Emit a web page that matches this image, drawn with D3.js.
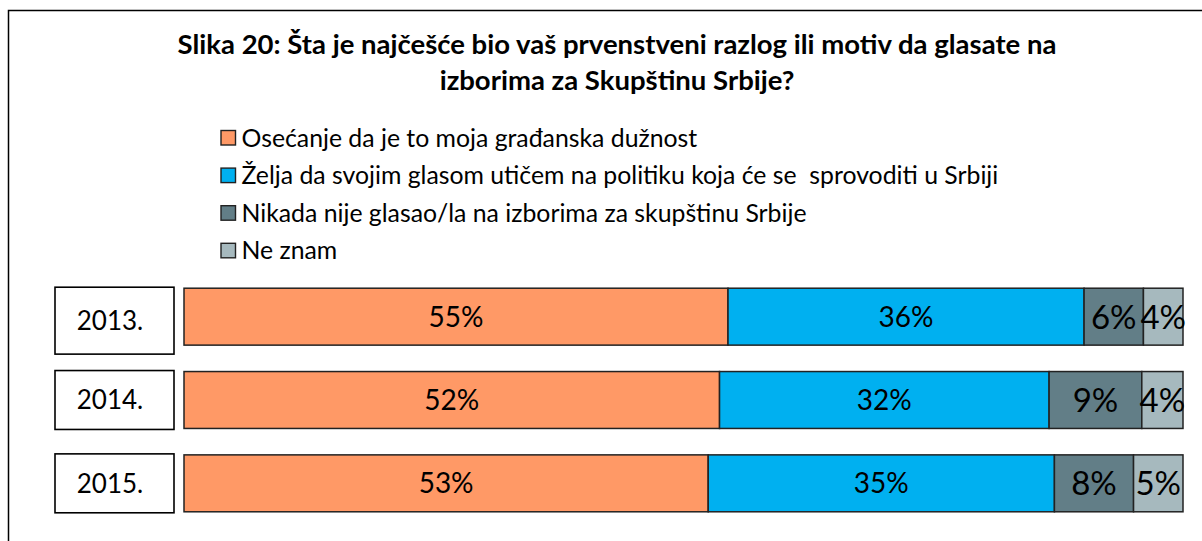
<!DOCTYPE html>
<html>
<head>
<meta charset="utf-8">
<script src="https://cdn.jsdelivr.net/npm/d3@7"></script>
<style>
  html, body { margin: 0; padding: 0; background: #fff; }
  svg { display: block; }
  text { font-family: Lato, "Open Sans", sans-serif; fill: #000; white-space: pre; }
</style>
</head>
<body>
<svg id="chart" width="1202" height="541"></svg>
<script>
const titleLines = [
  "Slika 20: Šta je najčešće bio vaš prvenstveni razlog ili motiv da glasate na",
  "izborima za Skupštinu Srbije?"
];
const years = ["2013.", "2014.", "2015."];
const seriesNames = [
  "Osećanje da je to moja građanska dužnost",
  "Želja da svojim glasom utičem na politiku koja će se  sprovoditi u Srbiji",
  "Nikada nije glasao/la na izborima za skupštinu Srbije",
  "Ne znam"
];
const civicDuty = [55, 52, 53];
const influence = [36, 32, 35];
const neverVoted = [6, 9, 8];
const dontKnow = [4, 4, 5];
const colors = ["#FF9966", "#00B0F0", "#627E87", "#A6B9BE"];

const svg = d3.select("#chart");
const W = 1202, H = 541;

// outer frame
svg.append("rect").attr("x", 8.5).attr("y", 10.5).attr("width", W).attr("height", H)
  .attr("fill", "#fff").attr("stroke", "#000").attr("stroke-width", 1.5);

// title
svg.append("g").selectAll("text").data(titleLines).join("text")
  .attr("x", 617).attr("y", (d, i) => 54 + i * 36)
  .attr("text-anchor", "middle")
  .attr("font-size", 27.5).attr("font-weight", "bold")
  .text(d => d);

// legend
const leg = svg.append("g").selectAll("g").data(seriesNames).join("g")
  .attr("transform", (d, i) => `translate(221,${138 + i * 37.6})`);
leg.append("rect").attr("x", 0).attr("y", -7.5).attr("width", 14.5).attr("height", 14.5)
  .attr("fill", (d, i) => colors[i]).attr("stroke", "#222").attr("stroke-width", 1.4);
leg.append("text").attr("x", 20.5).attr("y", 0).attr("dy", "0.35em")
  .attr("font-size", 24.8).text(d => d);

// data table
const rows = years.map((y, i) => ({
  year: y, s0: civicDuty[i], s1: influence[i], s2: neverVoted[i], s3: dontKnow[i]
}));
const keys = ["s0", "s1", "s2", "s3"];
const stack = d3.stack().keys(keys).offset(d3.stackOffsetExpand);
const series = stack(rows);

const x = d3.scaleLinear().domain([0, 1]).range([184, 1183]);
const y = d3.scaleBand().domain(years).range([275, 525]).paddingInner(0.317).paddingOuter(0.1585);

// year boxes
const yb = svg.append("g").selectAll("g").data(years).join("g");
yb.append("rect")
  .attr("x", 55).attr("width", 119)
  .attr("y", d => y(d) - 1)
  .attr("height", (d, i) => y.bandwidth() + 2 + (i === 0 ? 8 : 0))
  .attr("fill", "#fff").attr("stroke", "#000").attr("stroke-width", 1.6);
yb.append("text")
  .attr("x", 110).attr("y", (d, i) => y(d) + y.bandwidth() / 2 + (i === 0 ? 4 : 0))
  .attr("dy", "0.36em").attr("text-anchor", "middle")
  .attr("font-size", 26).text(d => d);

// bars
const g = svg.append("g").selectAll("g").data(series).join("g")
  .attr("fill", (d, i) => colors[i]);
g.selectAll("rect").data(d => d).join("rect")
  .attr("x", d => x(d[0])).attr("width", d => x(d[1]) - x(d[0]))
  .attr("y", d => y(d.data.year)).attr("height", y.bandwidth())
  .attr("stroke", "#222").attr("stroke-width", 1.5);

// labels
const lab = svg.append("g").selectAll("g").data(series).join("g");
lab.selectAll("text").data((d, si) => d.map(v => ({ v, si, key: d.key }))).join("text")
  .attr("x", d => (x(d.v[0]) + x(d.v[1])) / 2)
  .attr("y", d => y(d.v.data.year) + y.bandwidth() / 2)
  .attr("dy", "0.36em").attr("text-anchor", "middle")
  .attr("font-size", d => d.si < 2 ? 28 : 33)
  .attr("font-stretch", d => d.si < 2 ? null : "condensed")
  .attr("font-family", d => d.si < 2 ? "Lato, sans-serif" : "'DejaVu Sans Condensed', 'DejaVu Sans', sans-serif")
  .text(d => d.v.data[d.key] + "%");
</script>
</body>
</html>
